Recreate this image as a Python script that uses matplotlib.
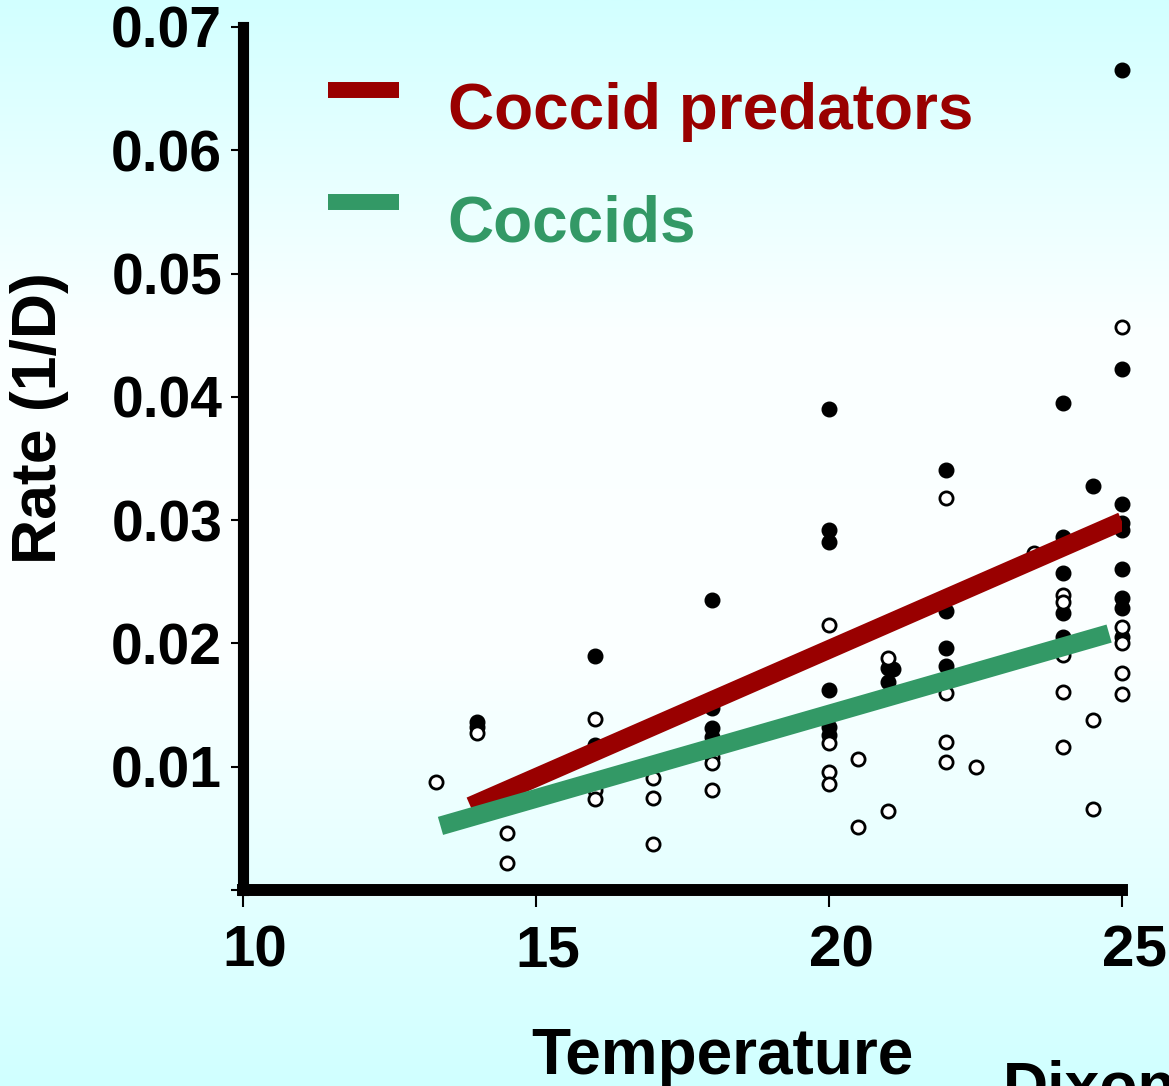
import numpy as np
import matplotlib
matplotlib.use("Agg")
import matplotlib.pyplot as plt
from matplotlib.transforms import ScaledTranslation

plt.rcParams['font.family'] = ['Liberation Sans', 'DejaVu Sans']
plt.rcParams['font.weight'] = 'bold'

# Coccid predators (filled dots)
pred_temp = [14, 14, 16, 16, 18, 18, 18, 18,
             20, 20, 20, 20, 20, 20, 21, 21.1, 21,
             22, 22, 22, 22, 24, 24, 24, 24, 24, 24.5,
             25, 25, 25, 25, 25, 25, 25, 25, 25]
pred_rate = [0.0136, 0.0132, 0.0190, 0.0118, 0.0235, 0.0148, 0.0131, 0.0124,
             0.0390, 0.0292, 0.0282, 0.0162, 0.0132, 0.0126, 0.0180, 0.0179, 0.0169,
             0.0341, 0.0226, 0.0196, 0.0182, 0.0395, 0.0286, 0.0257, 0.0225, 0.0205, 0.0328,
             0.0665, 0.0423, 0.0313, 0.0298, 0.0292, 0.0260, 0.0237, 0.0229, 0.0205]

# Coccids (open dots)
coc_temp = [13.3, 14, 14.5, 14.5, 16, 16, 16, 17, 17, 17, 18, 18, 18,
            20, 20, 20, 20, 20.5, 20.5, 21, 21, 22, 22, 22, 22, 22.5, 23.5,
            24, 24, 24, 24, 24, 24.5, 24.5, 25, 25, 25, 25, 25]
coc_rate = [0.0088, 0.0127, 0.0046, 0.0022, 0.0139, 0.0081, 0.0074, 0.0091, 0.0075, 0.0037,
            0.0108, 0.0103, 0.0081, 0.0215, 0.0119, 0.0096, 0.0086, 0.0106, 0.0051,
            0.0188, 0.0064, 0.0318, 0.0160, 0.0120, 0.0104, 0.0100, 0.0273,
            0.0239, 0.0234, 0.0191, 0.0161, 0.0116, 0.0138, 0.0066,
            0.0457, 0.0213, 0.0200, 0.0176, 0.0159]

# fitted lines (end points)
pred_fit_t = [13.88, 25.0]
pred_fit_r = [0.0068, 0.0299]
coc_fit_t = [13.37, 24.78]
coc_fit_r = [0.0052, 0.0208]

red = '#990000'
green = '#339966'

fig = plt.figure(figsize=(11.69, 10.86), dpi=100)

# background gradient
bg = fig.add_axes([0, 0, 1, 1], zorder=-10)
stops = np.array([0.0, 0.3, 0.6, 1.0])
g_vals = np.array([[210, 255, 255], [250, 255, 255], [252, 255, 255], [208, 255, 255]]) / 255
yy = np.linspace(0, 1, 400)
grad = np.stack([np.interp(yy, stops, g_vals[:, i]) for i in range(3)], axis=1)
bg.imshow(grad[:, None, :], aspect='auto', extent=[0, 1, 1, 0])
bg.set_axis_off()

ax = fig.add_axes([243 / 1169, 1 - 890 / 1086, (1122 - 243) / 1169, (890 - 27) / 1086])
ax.set_facecolor('none')

ax.plot(pred_temp, pred_rate, 'o', color='black', markersize=10.5, zorder=3, clip_on=False)
ax.plot(coc_temp, coc_rate, 'o', markerfacecolor='white', markeredgecolor='black',
        markersize=9.5, markeredgewidth=2, zorder=3, clip_on=False)

ax.plot(pred_fit_t, pred_fit_r, color=red, lw=13.5, solid_capstyle='butt', zorder=4)
ax.plot(coc_fit_t, coc_fit_r, color=green, lw=13.5, solid_capstyle='butt', zorder=5)

ax.set_xlim(10, 25)
ax.set_ylim(0, 0.07)
ax.set_xticks([10, 15, 20, 25])
ax.set_yticks([0, 0.01, 0.02, 0.03, 0.04, 0.05, 0.06, 0.07])
ax.set_yticklabels(['', '0.01', '0.02', '0.03', '0.04', '0.05', '0.06', '0.07'])

for side in ['top', 'right']:
    ax.spines[side].set_visible(False)
ax.spines['left'].set_linewidth(8)
ax.spines['bottom'].set_linewidth(8.6)
ax.tick_params(axis='y', direction='out', length=9, width=1.5, pad=6, labelsize=41)
ax.tick_params(axis='x', direction='out', length=12, width=1.5, pad=13, labelsize=42)
shift = ScaledTranslation(12 / 100, 0, fig.dpi_scale_trans)
for lab in ax.get_xticklabels():
    lab.set_transform(lab.get_transform() + shift)

# legend
ax.plot([0.097, 0.177], [0.927, 0.927], transform=ax.transAxes, color=red, lw=11.5,
        solid_capstyle='butt')
ax.plot([0.097, 0.177], [0.797, 0.797], transform=ax.transAxes, color=green, lw=11.5,
        solid_capstyle='butt')
ax.text(0.233, 0.882, 'Coccid predators', transform=ax.transAxes, fontsize=46,
        fontweight='bold', color=red, va='baseline', ha='left')
ax.text(0.233, 0.752, 'Coccids', transform=ax.transAxes, fontsize=46,
        fontweight='bold', color=green, va='baseline', ha='left')

fig.text(722 / 1169, 1 - 1074 / 1086, 'Temperature', fontsize=46, fontweight='bold',
         ha='center', va='baseline')
fig.text(40 / 1169, 1 - 418 / 1086, 'Rate (1/D)', fontsize=45, fontweight='bold',
         rotation=90, ha='center', va='center')
fig.text(1003 / 1169, 1 - 1105 / 1086, 'Dixon', fontsize=45, fontweight='bold',
         ha='left', va='baseline')

fig.savefig('out.png', dpi=100)
